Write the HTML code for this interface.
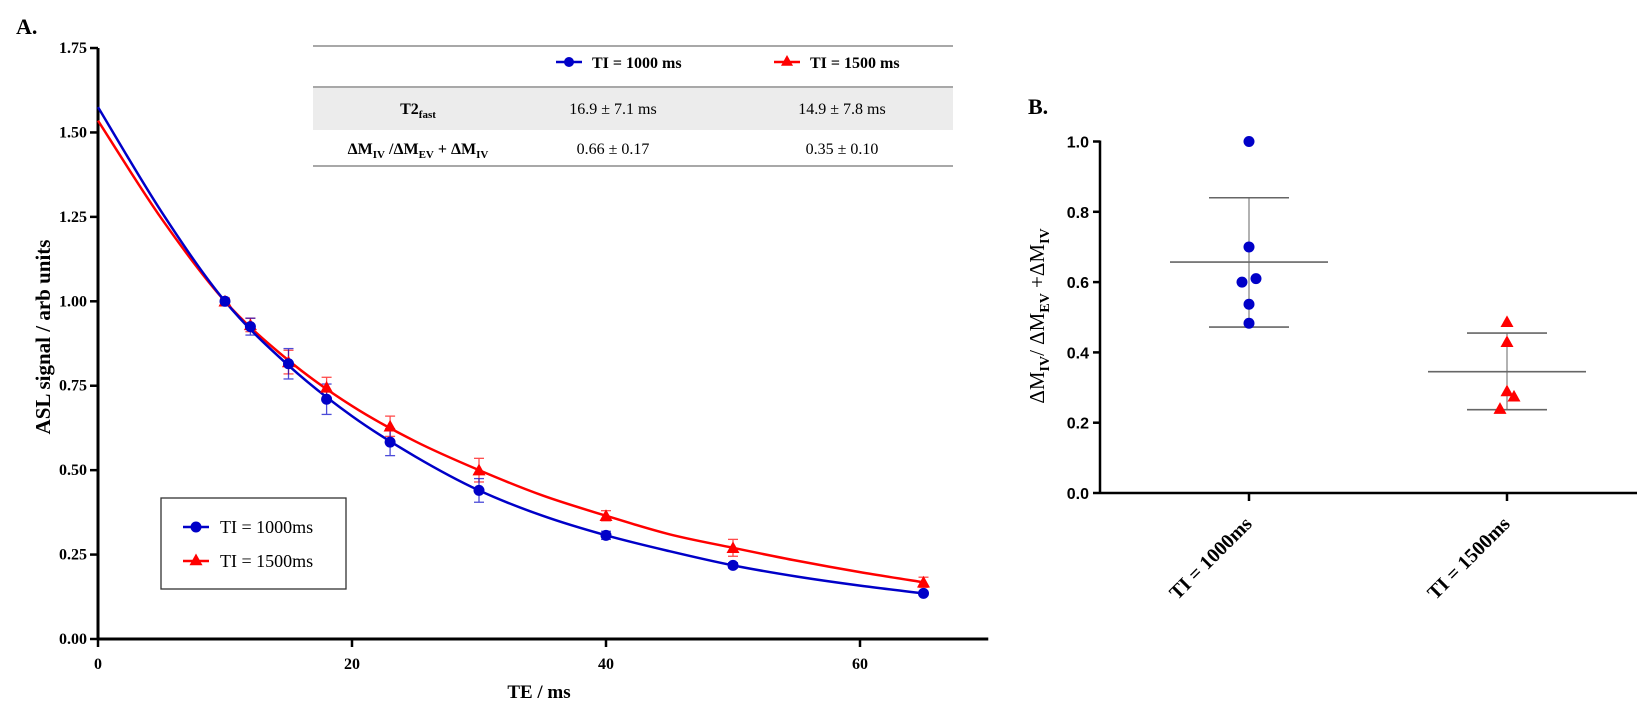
<!DOCTYPE html>
<html><head><meta charset="utf-8"><style>
body{margin:0;background:#fff;}
svg{display:block;}
.ser{font-family:"Liberation Serif",serif;}
.sans{font-family:"Liberation Sans",sans-serif;}
</style></head><body>
<svg id="fig" width="1650" height="725" viewBox="0 0 1650 725" xmlns="http://www.w3.org/2000/svg">
<g id="chartA"></g>
<g id="chartB"></g>
</svg>
<script>
// ---- Chart A data ----
const teValues = [10, 12, 15, 18, 23, 30, 40, 50, 65];
const blueMeans = [1.00, 0.925, 0.815, 0.71, 0.583, 0.44, 0.307, 0.218, 0.135];
const blueErr = [0.005, 0.025, 0.045, 0.045, 0.04, 0.035, 0.012, 0.008, 0.006];
const redMeans = [1.00, 0.93, 0.82, 0.745, 0.63, 0.50, 0.365, 0.27, 0.168];
const redErr = [0.01, 0.02, 0.035, 0.03, 0.03, 0.035, 0.015, 0.025, 0.015];
const fitT = [0, 5, 10, 15, 20, 25, 30, 35, 40, 45, 50, 55, 60, 65];
const blueFit = [1.575, 1.265, 1.00, 0.81, 0.66, 0.54, 0.44, 0.365, 0.307, 0.26, 0.218, 0.185, 0.158, 0.135];
const redFit = [1.535, 1.245, 1.00, 0.825, 0.69, 0.585, 0.50, 0.425, 0.365, 0.31, 0.27, 0.232, 0.198, 0.168];
const xTicksA = [0, 20, 40, 60];
const yTicksA = [0, 0.25, 0.5, 0.75, 1.0, 1.25, 1.5, 1.75];
const yTickLabelsA = ["0.00","0.25","0.50","0.75","1.00","1.25","1.50","1.75"];
// ---- Chart B data ----
const groups = ["TI = 1000ms", "TI = 1500ms"];
const bluePts = [1.0, 0.70, 0.60, 0.61, 0.537, 0.483];
const blueJit = [0, 0, -1, 1, 0, 0];
const redPts = [0.487, 0.43, 0.29, 0.275, 0.24];
const redJit = [0, 0, 0, 1, -1];
const groupMean = [0.657, 0.345];
const groupSDhi = [0.84, 0.455];
const groupSDlo = [0.472, 0.237];
const yTicksB = [0, 0.2, 0.4, 0.6, 0.8, 1.0];

const NS = "http://www.w3.org/2000/svg";
function mk(parent, tag, attrs, text){
  const e = document.createElementNS(NS, tag);
  for (const k in attrs) e.setAttribute(k, attrs[k]);
  if (text !== undefined) e.textContent = text;
  parent.appendChild(e);
  return e;
}
const BLUE = "#0000c8", RED = "#ff0000";

// ===== Chart A =====
const A = document.getElementById('chartA');
const ax = v => 98 + v * 12.7;
const ay = v => 639 - v * 337.7;
let t = mk(A, 'text', {x:16, y:34, class:'ser', 'font-size':22, 'font-weight':'bold'}, 'A.');


let l = mk(A, 'line', {x1:ax(0), y1:ay(0), x2:ax(70.1), y2:ay(0), stroke:'#000', 'stroke-width':3});


l = mk(A, 'line', {x1:ax(0), y1:ay(0)+1, x2:ax(0), y2:ay(1.75), stroke:'#000', 'stroke-width':3});


xTicksA.forEach(v => {
  mk(A, 'line', {x1:ax(v), y1:ay(0), x2:ax(v), y2:ay(0)+8, stroke:'#000', 'stroke-width':2.5});
  const e = mk(A, 'text', {x:ax(v), y:ay(0)+30, 'text-anchor':'middle', class:'ser', 'font-size':16, 'font-weight':'bold'}, String(v));
  
  
});
yTicksA.forEach((v, i) => {
  mk(A, 'line', {x1:ax(0)-8, y1:ay(v), x2:ax(0), y2:ay(v), stroke:'#000', 'stroke-width':2.5});
  const e = mk(A, 'text', {x:ax(0)-11, y:ay(v)+5, 'text-anchor':'end', class:'ser', 'font-size':16, 'font-weight':'bold'}, yTickLabelsA[i]);
  
  
});
t = mk(A, 'text', {x:539, y:698, 'text-anchor':'middle', class:'ser', 'font-size':19, 'font-weight':'bold'}, 'TE / ms');


t = mk(A, 'text', {x:0, y:0, 'text-anchor':'middle', class:'ser', 'font-size':21, 'font-weight':'bold', transform:'translate(50,337) rotate(-90)'}, 'ASL signal / arb units');



function smoothPath(xs, ys){
  const P = xs.map((x, i) => [ax(x), ay(ys[i])]);
  let d = `M${P[0][0]},${P[0][1]}`;
  for (let i = 0; i < P.length - 1; i++){
    const p0 = P[Math.max(0, i-1)], p1 = P[i], p2 = P[i+1], p3 = P[Math.min(P.length-1, i+2)];
    const c1 = [p1[0] + (p2[0]-p0[0])/6, p1[1] + (p2[1]-p0[1])/6];
    const c2 = [p2[0] - (p3[0]-p1[0])/6, p2[1] - (p3[1]-p1[1])/6];
    d += ` C${c1[0]},${c1[1]} ${c2[0]},${c2[1]} ${p2[0]},${p2[1]}`;
  }
  return d;
}
function tri(g, cx, cy, s, col){
  return mk(g, 'polygon', {points:`${cx},${cy-s} ${cx-s},${cy+s*0.8} ${cx+s},${cy+s*0.8}`, fill:col});
}
[[redMeans, redErr, RED, 'red'], [blueMeans, blueErr, BLUE, 'blue']].forEach(([m, e, c, nm]) => {
  teValues.forEach((x, i) => {
    const g = mk(A, 'g', {stroke:c, 'stroke-width':1.3, opacity:0.7});
    
    
    mk(g, 'line', {x1:ax(x), y1:ay(m[i]-e[i]), x2:ax(x), y2:ay(m[i]+e[i])});
    mk(g, 'line', {x1:ax(x)-5, y1:ay(m[i]-e[i]), x2:ax(x)+5, y2:ay(m[i]-e[i])});
    mk(g, 'line', {x1:ax(x)-5, y1:ay(m[i]+e[i]), x2:ax(x)+5, y2:ay(m[i]+e[i])});
  });
});
let p = mk(A, 'path', {d:smoothPath(fitT, redFit), fill:'none', stroke:RED, 'stroke-width':2.5});


p = mk(A, 'path', {d:smoothPath(fitT, blueFit), fill:'none', stroke:BLUE, 'stroke-width':2.5});


teValues.forEach((x, i) => {
  const r = tri(A, ax(x), ay(redMeans[i]), 6.5, RED);
  
  
});
teValues.forEach((x, i) => {
  const c = mk(A, 'circle', {cx:ax(x), cy:ay(blueMeans[i]), r:5.5, fill:BLUE});
  
  
});
const lg = mk(A, 'g', {});


mk(lg, 'rect', {x:161, y:498, width:185, height:91, fill:'#fff', stroke:'#333', 'stroke-width':1.3});
mk(lg, 'line', {x1:183, y1:527, x2:209, y2:527, stroke:BLUE, 'stroke-width':2.5});
mk(lg, 'circle', {cx:196, cy:527, r:5.5, fill:BLUE});
let le = mk(lg, 'text', {x:220, y:533, class:'ser', 'font-size':18}, 'TI = 1000ms');


mk(lg, 'line', {x1:183, y1:561, x2:209, y2:561, stroke:RED, 'stroke-width':2.5});
tri(lg, 196, 560, 6.5, RED);
le = mk(lg, 'text', {x:220, y:567, class:'ser', 'font-size':18}, 'TI = 1500ms');


const tb = mk(A, 'g', {});


mk(tb, 'rect', {x:313, y:88, width:640, height:42, fill:'#ececec'});
[46, 87, 166].forEach(y => mk(tb, 'line', {x1:313, y1:y, x2:953, y2:y, stroke:'#a8a8a8', 'stroke-width':2}));
mk(tb, 'line', {x1:556, y1:62, x2:582, y2:62, stroke:BLUE, 'stroke-width':2.5});
mk(tb, 'circle', {cx:569, cy:62, r:5, fill:BLUE});
mk(tb, 'text', {x:592, y:68, class:'ser', 'font-size':16, 'font-weight':'bold'}, 'TI = 1000 ms');
mk(tb, 'line', {x1:774, y1:62, x2:800, y2:62, stroke:RED, 'stroke-width':2.5});
tri(tb, 787, 61, 6, RED);
mk(tb, 'text', {x:810, y:68, class:'ser', 'font-size':16, 'font-weight':'bold'}, 'TI = 1500 ms');
let tt = mk(tb, 'text', {x:418, y:114, 'text-anchor':'middle', class:'ser', 'font-size':16, 'font-weight':'bold'});
tt.innerHTML = 'T2<tspan font-size="11" dy="4">fast</tspan>';
mk(tb, 'text', {x:613, y:114, 'text-anchor':'middle', class:'ser', 'font-size':16}, '16.9 ± 7.1 ms');
mk(tb, 'text', {x:842, y:114, 'text-anchor':'middle', class:'ser', 'font-size':16}, '14.9 ± 7.8 ms');
tt = mk(tb, 'text', {x:418, y:154, 'text-anchor':'middle', class:'ser', 'font-size':16, 'font-weight':'bold'});
tt.innerHTML = 'ΔM<tspan font-size="11" dy="4">IV</tspan><tspan dy="-4"> /ΔM</tspan><tspan font-size="11" dy="4">EV</tspan><tspan dy="-4"> + ΔM</tspan><tspan font-size="11" dy="4">IV</tspan>';
mk(tb, 'text', {x:613, y:154, 'text-anchor':'middle', class:'ser', 'font-size':16}, '0.66 ± 0.17');
mk(tb, 'text', {x:842, y:154, 'text-anchor':'middle', class:'ser', 'font-size':16}, '0.35 ± 0.10');

// ===== Chart B =====
const B = document.getElementById('chartB');
const bx = i => 1249 + i * 258;
const by = v => 493 - v * 351.5;
const JIT = 7, MEANW = 79, SDW = 40;
t = mk(B, 'text', {x:1028, y:114, class:'ser', 'font-size':22, 'font-weight':'bold'}, 'B.');


l = mk(B, 'line', {x1:1100, y1:by(0), x2:1637, y2:by(0), stroke:'#000', 'stroke-width':2.5});


l = mk(B, 'line', {x1:1100, y1:by(0)+1, x2:1100, y2:by(1.0)-1, stroke:'#000', 'stroke-width':2.5});


yTicksB.forEach(v => {
  mk(B, 'line', {x1:1093, y1:by(v), x2:1100, y2:by(v), stroke:'#000', 'stroke-width':2.5});
  const e = mk(B, 'text', {x:1089, y:by(v)+6, 'text-anchor':'end', class:'sans', 'font-size':16, 'font-weight':'bold'}, v.toFixed(1));
  
  
});
groups.forEach((g, i) => {
  mk(B, 'line', {x1:bx(i), y1:by(0), x2:bx(i), y2:by(0)+8, stroke:'#000', 'stroke-width':2.5});
  const e = mk(B, 'text', {x:0, y:0, 'text-anchor':'end', class:'ser', 'font-size':20, 'font-weight':'bold', transform:`translate(${bx(i)+4},${by(0)+32}) rotate(-45)`}, g);
  
  
});
tt = mk(B, 'text', {x:0, y:0, 'text-anchor':'middle', class:'ser', 'font-size':21, transform:'translate(1044,316) rotate(-90)'});
tt.innerHTML = 'ΔM<tspan font-size="14" dy="5" font-weight="bold">IV</tspan><tspan dy="-5">/ ΔM</tspan><tspan font-size="14" dy="5" font-weight="bold">EV</tspan><tspan dy="-5"> +ΔM</tspan><tspan font-size="14" dy="5" font-weight="bold">IV</tspan>';


groups.forEach((g, i) => {
  const s = mk(B, 'g', {stroke:'#666', 'stroke-width':1.6});
  
  
  mk(s, 'line', {x1:bx(i), y1:by(groupSDhi[i]), x2:bx(i), y2:by(groupSDlo[i]), 'stroke-width':1});
  mk(s, 'line', {x1:bx(i)-MEANW, y1:by(groupMean[i]), x2:bx(i)+MEANW, y2:by(groupMean[i])});
  mk(s, 'line', {x1:bx(i)-SDW, y1:by(groupSDhi[i]), x2:bx(i)+SDW, y2:by(groupSDhi[i])});
  mk(s, 'line', {x1:bx(i)-SDW, y1:by(groupSDlo[i]), x2:bx(i)+SDW, y2:by(groupSDlo[i])});
});
bluePts.forEach((v, i) => {
  const c = mk(B, 'circle', {cx:bx(0) + blueJit[i]*JIT, cy:by(v), r:5.5, fill:BLUE});
  
  
});
redPts.forEach((v, i) => {
  const r = tri(B, bx(1) + redJit[i]*JIT, by(v), 6.5, RED);
  
  
});
</script>
</body></html>
